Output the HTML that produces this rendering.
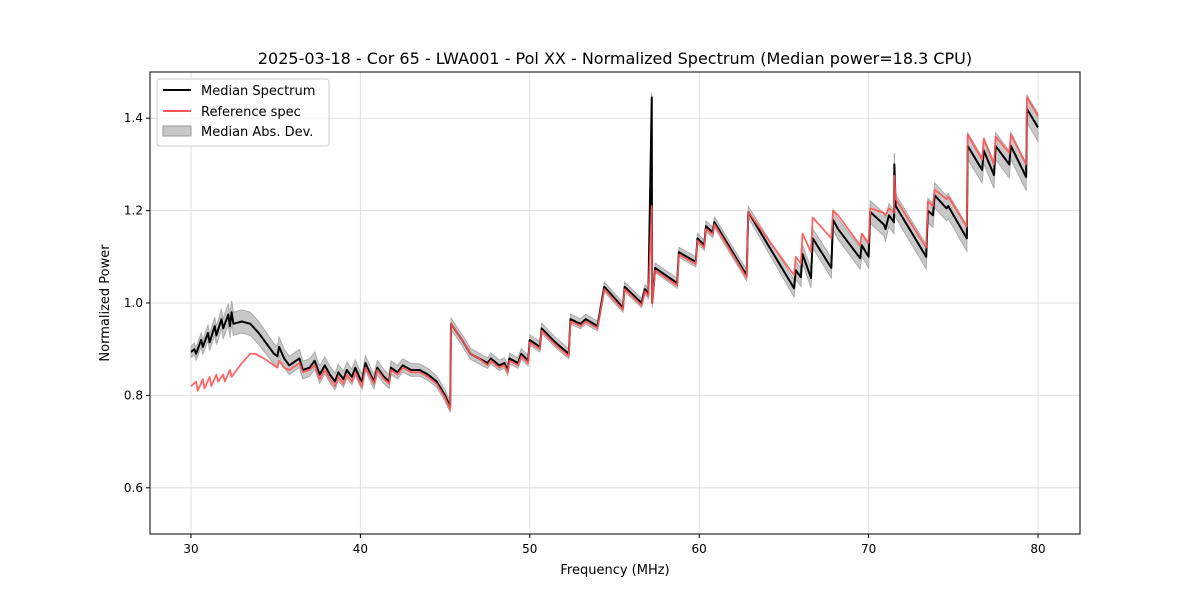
<!DOCTYPE html>
<html><head><meta charset="utf-8"><style>
body{margin:0;background:#fff;}
svg text{font-family:"DejaVu Sans","Liberation Sans",sans-serif;}
</style></head><body>
<svg id="chart" width="1200" height="600" xmlns="http://www.w3.org/2000/svg">
<rect width="1200" height="600" fill="#fff"/>
<text x="615" y="64" text-anchor="middle" font-size="16">2025-03-18 - Cor 65 - LWA001 - Pol XX - Normalized Spectrum (Median power=18.3 CPU)</text>
<g id="grid"></g>
<g id="band"></g>
<g id="lines"></g>
<rect x="150" y="72" width="930" height="462" fill="none" stroke="#000" stroke-width="1"/>
<g id="ticks"></g>
<text x="615" y="574" text-anchor="middle" font-size="13">Frequency (MHz)</text>
<text transform="translate(109,303) rotate(-90)" text-anchor="middle" font-size="13">Normalized Power</text>
<g>
<rect x="157" y="79" width="172" height="67" rx="3" fill="#fff" fill-opacity="0.8" stroke="#ccc"/>
<line x1="163" y1="90" x2="191" y2="90" stroke="#000" stroke-width="2"/>
<text x="201" y="95" font-size="13">Median Spectrum</text>
<line x1="163" y1="111" x2="191" y2="111" stroke="#ff5555" stroke-width="2"/>
<text x="201" y="116" font-size="13">Reference spec</text>
<rect x="163" y="126" width="28" height="10" fill="#c8c8c8" stroke="#999"/>
<text x="201" y="136" font-size="13">Median Abs. Dev.</text>
</g>
</svg>
<script>
const xTicks=[30,40,50,60,70,80];
const yTicks=[0.6,0.8,1.0,1.2,1.4];
const yTickLabels=["0.6","0.8","1.0","1.2","1.4"];
const medFreq=[30,30.2,30.3,30.6,30.7,31.0,31.1,31.4,31.5,31.8,31.9,32.2,32.3,32.4,32.5,33.0,33.5,34.0,34.5,34.9,35.1,35.2,35.5,35.8,36.4,36.6,37.0,37.3,37.6,37.9,38.2,38.5,38.7,39.0,39.2,39.5,39.7,40.0,40.1,40.3,40.6,40.8,41.0,41.4,41.7,41.8,42.2,42.5,43.0,43.5,44.0,44.5,45.0,45.3,45.35,46.0,46.5,47.0,47.5,47.7,48.2,48.5,48.7,48.8,49.3,49.5,49.9,50.0,50.6,50.7,51.5,52.3,52.4,53.0,53.3,54.0,54.4,55.5,55.6,56.6,56.8,57.0,57.2,57.22,57.25,57.4,58.7,58.8,59.8,59.9,60.3,60.4,60.8,60.9,62.8,62.9,65.6,65.7,66.0,66.1,66.6,66.7,67.8,67.9,68.2,69.5,69.6,70.0,70.1,70.9,71.0,71.2,71.5,71.52,71.6,73.4,73.5,73.8,73.9,74.6,74.7,75.8,75.85,76.7,76.8,77.4,77.5,78.3,78.4,79.3,79.35,80];
const medVal=[0.894,0.9,0.89,0.92,0.905,0.935,0.915,0.95,0.93,0.965,0.945,0.975,0.95,0.98,0.955,0.96,0.955,0.935,0.91,0.89,0.885,0.905,0.88,0.865,0.88,0.855,0.86,0.875,0.845,0.865,0.845,0.83,0.85,0.835,0.855,0.84,0.86,0.835,0.83,0.87,0.845,0.83,0.86,0.84,0.83,0.86,0.85,0.865,0.855,0.855,0.845,0.83,0.8,0.775,0.955,0.92,0.89,0.88,0.87,0.88,0.865,0.87,0.855,0.88,0.87,0.89,0.875,0.92,0.905,0.945,0.915,0.89,0.965,0.955,0.965,0.95,1.035,0.99,1.035,1.0,1.03,1.02,1.445,1.0,1.01,1.076,1.043,1.11,1.089,1.14,1.125,1.166,1.153,1.175,1.06,1.197,1.032,1.071,1.056,1.106,1.054,1.14,1.076,1.18,1.16,1.097,1.125,1.1,1.197,1.17,1.16,1.19,1.175,1.3,1.21,1.1,1.2,1.19,1.233,1.205,1.21,1.14,1.34,1.288,1.33,1.277,1.34,1.3,1.34,1.273,1.42,1.38];
const refFreq=[30,30.3,30.4,30.7,30.8,31.1,31.2,31.5,31.6,31.9,32.0,32.3,32.4,32.7,33.0,33.5,33.8,34.3,34.9,35.1,35.2,35.5,35.8,36.4,36.6,37.0,37.3,37.6,37.9,38.2,38.5,38.7,39.0,39.2,39.5,39.7,40.0,40.1,40.3,40.6,40.8,41.0,41.4,41.7,41.8,42.2,42.5,43.0,43.5,44.0,44.5,45.0,45.3,45.35,46.0,46.5,47.0,47.5,47.7,48.2,48.5,48.7,48.8,49.3,49.5,49.9,50.0,50.6,50.7,51.5,52.3,52.4,53.0,53.3,54.0,54.4,55.5,55.6,56.6,56.8,57.0,57.2,57.22,57.25,57.4,58.7,58.8,59.8,59.9,60.3,60.4,60.8,60.9,62.8,62.9,65.6,65.7,66.0,66.1,66.6,66.7,67.8,67.9,68.2,69.5,69.6,70.0,70.1,70.9,71.0,71.2,71.5,71.52,71.6,73.4,73.5,73.8,73.9,74.6,74.7,75.8,75.85,76.7,76.8,77.4,77.5,78.3,78.4,79.3,79.35,80];
const refVal=[0.82,0.83,0.81,0.835,0.815,0.84,0.82,0.845,0.83,0.845,0.83,0.855,0.84,0.855,0.87,0.89,0.89,0.88,0.865,0.86,0.875,0.86,0.855,0.87,0.85,0.855,0.865,0.835,0.855,0.835,0.82,0.84,0.825,0.845,0.83,0.85,0.825,0.82,0.86,0.84,0.825,0.855,0.835,0.825,0.855,0.845,0.86,0.85,0.85,0.84,0.825,0.795,0.77,0.955,0.92,0.89,0.88,0.865,0.875,0.86,0.865,0.85,0.875,0.865,0.885,0.87,0.915,0.9,0.94,0.91,0.885,0.96,0.95,0.96,0.945,1.03,0.985,1.03,0.995,1.025,1.015,1.21,1.0,1.005,1.07,1.038,1.105,1.084,1.135,1.12,1.16,1.148,1.17,1.055,1.197,1.06,1.1,1.085,1.15,1.11,1.185,1.14,1.2,1.19,1.125,1.15,1.13,1.205,1.195,1.19,1.205,1.195,1.275,1.225,1.12,1.22,1.21,1.245,1.225,1.23,1.165,1.365,1.31,1.355,1.3,1.36,1.325,1.365,1.3,1.445,1.405];
const madFreq=[30,32.5,34,35.5,38,45,57,63,66,70,76,80];
const madVal=[0.012,0.025,0.025,0.02,0.018,0.012,0.01,0.012,0.02,0.024,0.028,0.03];

const L=150,R=1080,T=72,B=534,XMIN=27.58,XMAX=82.48,YMIN=0.5,YMAX=1.5;
const sx=f=>L+(f-XMIN)/(XMAX-XMIN)*(R-L);
const sy=v=>B-(v-YMIN)/(YMAX-YMIN)*(B-T);
const NS="http://www.w3.org/2000/svg";
function mk(tag,attrs,parent){const e=document.createElementNS(NS,tag);for(const k in attrs)e.setAttribute(k,attrs[k]);parent.appendChild(e);return e;}
function madAt(f){for(let i=1;i<madFreq.length;i++){if(f<=madFreq[i]){const t=(f-madFreq[i-1])/(madFreq[i]-madFreq[i-1]);return madVal[i-1]+t*(madVal[i]-madVal[i-1]);}}return madVal[madVal.length-1];}
const grid=document.getElementById('grid'),ticks=document.getElementById('ticks');
xTicks.forEach(t=>{const x=sx(t);
 const g=mk('line',{x1:x,x2:x,y1:T,y2:B,stroke:'#e0e0e0','stroke-width':1},grid);
 
 mk('line',{x1:x,x2:x,y1:B,y2:B+4,stroke:'#000'},ticks);
 const tx=mk('text',{x:x,y:B+19,'text-anchor':'middle','font-size':12},ticks);tx.textContent=t;
 });
yTicks.forEach((t,i)=>{const y=sy(t);
 const g=mk('line',{x1:L,x2:R,y1:y,y2:y,stroke:'#e0e0e0','stroke-width':1},grid);
 
 mk('line',{x1:L-4,x2:L,y1:y,y2:y,stroke:'#000'},ticks);
 const tx=mk('text',{x:L-7,y:y+4,'text-anchor':'end','font-size':12},ticks);tx.textContent=yTickLabels[i];
 });
let up=[],dn=[];
medFreq.forEach((f,i)=>{const m=madAt(f);up.push(sx(f)+','+sy(medVal[i]+m));dn.push(sx(f)+','+sy(medVal[i]-m));});
const band=mk('polygon',{points:up.concat(dn.reverse()).join(' '),fill:'#c8c8c8',stroke:'#aaa','stroke-width':1},document.getElementById('band'));

const lines=document.getElementById('lines');
const med=mk('polyline',{points:medFreq.map((f,i)=>sx(f)+','+sy(medVal[i])).join(' '),fill:'none',stroke:'#000','stroke-width':2,'stroke-linejoin':'round'},lines);

const ref=mk('polyline',{points:refFreq.map((f,i)=>sx(f)+','+sy(refVal[i])).join(' '),fill:'none',stroke:'#ff5555','stroke-opacity':0.9,'stroke-width':1.8,'stroke-linejoin':'round'},lines);

</script>
</body></html>
